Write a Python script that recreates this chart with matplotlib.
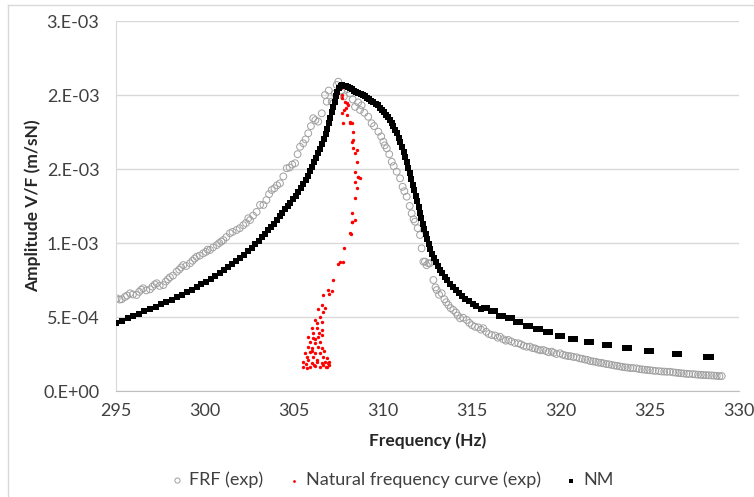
import numpy as np
import matplotlib.pyplot as plt
from matplotlib.lines import Line2D

plt.rcParams['font.family'] = ['Lato', 'DejaVu Sans']

# amplitudes are given in units of 1e-4 m/sN
SCALE = 1e-4

frf_freq = [295.04, 295.2, 295.32, 295.5, 295.62, 295.79, 295.95, 296.16, 296.3, 296.42,
            296.53, 296.7, 296.91, 297.05, 297.18, 297.29, 297.45, 297.66, 297.8, 297.92,
            298.03, 298.2, 298.41, 298.55, 298.66, 298.78, 298.95, 299.16, 299.3, 299.42,
            299.53, 299.7, 299.9, 300.05, 300.15, 300.28, 300.45, 300.66, 300.8, 300.92,
            301.03, 301.2, 301.4, 301.55, 301.78, 301.95, 302.15, 302.3, 302.43, 302.53,
            302.7, 302.9, 303.09, 303.28, 303.45, 303.6, 303.75, 303.9, 304.05, 304.21,
            304.4, 304.59, 304.75, 304.9, 305.06, 305.2, 305.34, 305.52, 305.65, 305.8,
            305.95, 306.08, 306.2, 306.36, 306.56, 306.74, 306.84, 306.95, 307.12, 307.2,
            307.3, 307.4, 307.49, 307.65, 307.8, 308.0, 308.15, 308.3, 308.43, 308.6,
            308.71, 308.8, 308.95, 309.17, 309.36, 309.5, 309.74, 309.9, 310.02, 310.1,
            310.21, 310.35, 310.49, 310.6, 310.77, 310.96, 311.1, 311.2, 311.33, 311.5,
            311.61, 311.72, 311.8, 311.95, 312.08, 312.17, 312.27, 312.36, 312.45, 312.55,
            312.64, 312.83, 312.95, 313.02, 313.15, 313.3, 313.45, 313.55, 313.67, 313.8,
            313.95, 314.1, 314.2, 314.33, 314.5, 314.7, 314.85, 315.0, 315.17, 315.35,
            315.5, 315.63, 315.8, 315.95, 316.11, 316.3, 316.45, 316.57, 316.75, 316.9,
            317.04, 317.2, 317.4, 317.6, 317.75, 317.9, 318.07, 318.25, 318.4, 318.54,
            318.7, 318.85, 319.0, 319.15, 319.3, 319.48, 319.6, 319.75, 319.94, 320.1,
            320.25, 320.41, 320.55, 320.7, 320.88, 321.05, 321.2, 321.35, 321.5, 321.65,
            321.8, 321.95, 322.1, 322.25, 322.38, 322.55, 322.7, 322.85, 323.0, 323.15,
            323.3, 323.45, 323.6, 323.75, 323.9, 324.05, 324.25, 324.4, 324.55, 324.7,
            324.85, 325.0, 325.15, 325.3, 325.5, 325.65, 325.8, 325.95, 326.12, 326.3,
            326.45, 326.6, 326.75, 326.9, 327.05, 327.2, 327.4, 327.55, 327.7, 327.85,
            327.99, 328.15, 328.3, 328.45, 328.6, 328.75, 328.9, 329.03]
frf_amp = [6.26, 6.18, 6.20, 6.35, 6.45, 6.60, 6.52, 6.49, 6.70, 6.85,
           6.94, 6.80, 6.87, 7.05, 7.20, 7.28, 7.10, 7.16, 7.40, 7.55,
           7.68, 7.80, 8.06, 8.20, 8.35, 8.51, 8.45, 8.63, 8.80, 8.95,
           9.07, 9.15, 9.30, 9.40, 9.55, 9.53, 9.70, 9.86, 10.0, 10.1,
           10.2, 10.4, 10.66, 10.75, 10.88, 11.0, 11.2, 11.35, 11.67, 11.55,
           11.85, 12.1, 12.57, 12.57, 12.9, 13.3, 13.58, 13.7, 13.9, 14.03,
           14.5, 15.05, 15.1, 15.3, 15.39, 16.0, 16.5, 16.74, 17.0, 17.41,
           17.9, 18.43, 18.3, 18.2, 18.76, 20.0, 19.55, 20.3, 19.55, 19.44,
           20.1, 20.68, 20.9, 20.3, 19.9, 20.4, 20.1, 19.7, 19.2, 19.5,
           18.99, 19.3, 18.8, 18.53, 18.09, 17.9, 17.52, 17.2, 16.84, 16.6,
           16.4, 16.0, 15.49, 15.2, 14.82, 14.37, 13.8, 13.5, 13.13, 12.5,
           12.0, 11.6, 11.44, 11.0, 10.54, 9.64, 8.74, 8.74, 8.5, 8.63,
           8.63, 7.5, 7.0, 6.82, 6.5, 6.6, 6.2, 6.0, 5.81, 5.6,
           5.47, 5.3, 5.1, 4.91, 4.95, 4.80, 4.6, 4.45, 4.34, 4.3,
           4.15, 4.24, 4.0, 3.85, 3.78, 3.75, 3.6, 3.67, 3.5, 3.4,
           3.45, 3.35, 3.25, 3.22, 3.15, 3.05, 2.99, 3.0, 2.9, 2.88,
           2.8, 2.75, 2.77, 2.7, 2.62, 2.66, 2.58, 2.5, 2.55, 2.45,
           2.4, 2.36, 2.35, 2.30, 2.28, 2.2, 2.18, 2.12, 2.1, 2.02,
           2.0, 1.97, 1.92, 1.9, 1.87, 1.82, 1.8, 1.76, 1.72, 1.7,
           1.66, 1.63, 1.6, 1.58, 1.55, 1.55, 1.53, 1.48, 1.46, 1.44,
           1.42, 1.40, 1.38, 1.36, 1.34, 1.32, 1.31, 1.30, 1.30, 1.26,
           1.24, 1.22, 1.2, 1.18, 1.16, 1.15, 1.14, 1.12, 1.1, 1.09,
           1.08, 1.07, 1.06, 1.05, 1.04, 1.02, 1.0, 1.01]

nat_freq = [305.52, 305.71, 305.90, 306.18, 306.46, 306.65, 306.83, 305.52, 305.80, 305.99,
            306.27, 306.55, 306.74, 306.93, 305.71, 306.09, 306.65, 306.83, 305.61, 305.90,
            306.18, 306.46, 305.80, 305.99, 306.37, 306.55, 305.90, 306.18, 306.46, 305.80,
            306.09, 306.37, 306.55, 306.09, 305.99, 306.27, 306.55, 306.18, 306.27, 306.55,
            306.46, 306.37, 306.55, 306.74, 306.65, 306.65, 306.89, 307.15, 306.97, 306.0,
            306.3, 306.1, 305.65, 306.7, 306.4, 306.2, 306.98, 306.95, 306.8,
            307.21, 307.58, 307.77, 307.49, 307.82, 308.2, 308.24, 308.15, 308.24, 308.43,
            308.24, 308.43, 308.52, 308.43, 308.61, 308.71, 308.43, 308.52, 308.33, 308.52,
            308.43, 308.24, 308.33, 308.15, 308.24, 307.77, 307.68, 307.87, 307.96, 308.05,
            307.68, 307.58, 307.62, 307.72, 307.9, 307.8, 307.96, 308.15, 308.33, 308.61]
nat_amp = [1.64, 1.53, 1.64, 1.69, 1.64, 1.76, 1.64, 1.98, 2.09, 1.87,
           1.98, 1.87, 1.98, 1.87, 2.32, 2.32, 2.32, 2.21, 2.55, 2.66,
           2.55, 2.55, 2.99, 2.88, 2.99, 2.88, 3.33, 3.22, 3.33, 3.67,
           3.56, 3.67, 3.78, 3.90, 4.23, 4.23, 4.12, 4.80, 4.57, 4.68,
           5.02, 5.52, 5.81, 5.59, 5.36, 6.49, 6.82, 6.76, 6.55, 2.7,
           2.1, 1.75, 1.8, 2.7, 3.9, 3.5, 1.75, 1.95, 1.6,
           7.5, 8.74, 8.74, 8.56, 9.66, 10.6, 11.44, 10.66, 11.44, 11.55,
           12.0, 13.02, 13.7, 14.14, 14.48, 14.37, 14.82, 15.5, 16.4, 16.28,
           16.05, 16.84, 17.52, 18.2, 18.09, 18.09, 18.76, 19.55, 19.44, 19.32,
           20.0, 20.68, 20.45, 19.8, 19.1, 19.0, 18.65, 18.14, 16.96, 14.48]

nm_freq = [295.0, 295.33, 295.66, 295.97, 296.28, 296.6, 296.92, 297.23, 297.53, 297.83,
           298.12, 298.41, 298.7, 298.98, 299.26, 299.53, 299.8, 300.06, 300.32, 300.57,
           300.82, 301.06, 301.3, 301.53, 301.76, 301.98, 302.2, 302.41, 302.62, 302.82,
           303.02, 303.2, 303.38, 303.55, 303.72, 303.88, 304.04, 304.2, 304.35, 304.5,
           304.65, 304.8, 304.95, 305.1, 305.24, 305.38, 305.52, 305.65, 305.78, 305.9,
           306.02, 306.14, 306.26, 306.37, 306.48, 306.58, 306.68, 306.78, 306.87, 306.96,
           307.04, 307.12, 307.2, 307.28, 307.36, 307.44, 307.52, 307.62, 307.72, 307.82,
           307.92, 308.02, 308.14, 308.26, 308.38, 308.5, 308.62, 308.74, 308.86, 308.98,
           309.1, 309.22, 309.34, 309.46, 309.58, 309.7, 309.82, 309.94, 310.05, 310.16,
           310.27, 310.38, 310.48, 310.58, 310.68, 310.78, 310.88, 310.98, 311.07, 311.16,
           311.25, 311.34, 311.43, 311.52, 311.6, 311.68, 311.76, 311.84, 311.92, 312.0,
           312.08, 312.16, 312.24, 312.32, 312.4, 312.48, 312.57, 312.66, 312.76, 312.86,
           312.97, 313.08, 313.2, 313.33, 313.47, 313.61, 313.76, 313.92, 314.08, 314.25,
           314.43, 314.62, 314.82, 315.03, 315.25, 315.48,
           315.65, 315.87, 316.05, 316.27, 316.52, 316.74, 317.02, 317.25, 317.49, 317.72,
           318.05, 318.28, 318.61, 318.84, 319.18, 319.41, 319.83, 320.06, 320.58, 320.81,
           321.46, 321.69, 322.45, 322.68, 323.58, 323.81, 324.85, 325.08, 326.39, 326.62,
           328.17, 328.4]
nm_amp = [4.61, 4.75, 4.92, 5.07, 5.22, 5.38, 5.55, 5.7, 5.86, 6.03,
          6.18, 6.32, 6.5, 6.66, 6.84, 7.02, 7.2, 7.38, 7.57, 7.76,
          7.95, 8.15, 8.36, 8.57, 8.78, 9.0, 9.22, 9.45, 9.68, 9.92,
          10.16, 10.4, 10.62, 10.85, 11.08, 11.3, 11.55, 11.8, 12.03, 12.27,
          12.5, 12.72, 12.95, 13.2, 13.45, 13.72, 14.0, 14.28, 14.56, 14.85,
          15.15, 15.45, 15.76, 16.07, 16.38, 16.7, 17.03, 17.37, 17.72, 18.08,
          18.45, 18.82, 19.2, 19.55, 19.9, 20.2, 20.45, 20.6, 20.65, 20.62,
          20.6, 20.55, 20.48, 20.4, 20.3, 20.2, 20.12, 20.05, 19.98, 19.9,
          19.82, 19.72, 19.62, 19.52, 19.42, 19.3, 19.15, 19.0, 18.85, 18.68,
          18.5, 18.3, 18.1, 17.88, 17.65, 17.4, 17.12, 16.82, 16.5, 16.15,
          15.8, 15.45, 15.08, 14.7, 14.32, 13.95, 13.58, 13.2, 12.82, 12.44,
          12.05, 11.68, 11.3, 10.93, 10.58, 10.24, 9.9, 9.58, 9.27, 8.98,
          8.7, 8.44, 8.2, 7.95, 7.7, 7.47, 7.25, 7.03, 6.82, 6.62,
          6.43, 6.24, 6.06, 5.89, 5.72, 5.56,
          5.6, 5.6, 5.4, 5.4, 5.1, 5.1, 4.9, 4.9, 4.68, 4.68,
          4.4, 4.4, 4.2, 4.2, 4.0, 4.0, 3.74, 3.74, 3.53, 3.53,
          3.33, 3.33, 3.13, 3.13, 2.9, 2.9, 2.7, 2.7, 2.5, 2.5,
          2.28, 2.28]

yticks = [0, 5e-4, 1e-3, 1.5e-3, 2e-3, 2.5e-3]
ytick_labels = ['0.E+00', '5.E-04', '1.E-03', '2.E-03', '2.E-03', '3.E-03']
xticks = [295, 300, 305, 310, 315, 320, 325, 330]

fig = plt.figure(figsize=(7.54, 4.97), dpi=100)
ax = fig.add_axes([116 / 754, 1 - 391 / 497, 623 / 754, 370 / 497])

ax.scatter(frf_freq, np.array(frf_amp) * SCALE, s=24, facecolors='none',
           edgecolors='#a0a0a0', linewidths=0.7, label='FRF (exp)', zorder=2)
ax.scatter(nat_freq, np.array(nat_amp) * SCALE, s=6, color='#ff0000',
           linewidths=0, label='Natural frequency curve (exp)', zorder=3)
ax.scatter(nm_freq, np.array(nm_amp) * SCALE, s=13, marker='s', color='black',
           linewidths=0, label='NM', zorder=4)

ax.set_xlim(295, 330)
ax.set_ylim(0, 2.5e-3)
ax.set_xticks(xticks)
ax.set_yticks(yticks)
ax.set_yticklabels(ytick_labels)
ax.tick_params(length=0, labelsize=13, labelcolor='#404040')
ax.tick_params(axis='x', pad=9)
ax.tick_params(axis='y', pad=12)
ax.grid(axis='y', color='#d9d9d9', linewidth=1)
ax.set_axisbelow(True)
for side in ['top', 'right']:
    ax.spines[side].set_visible(False)
ax.spines['left'].set_color('#d9d9d9')
ax.spines['bottom'].set_color('#bfbfbf')

ax.set_xlabel('Frequency (Hz)', fontsize=12.5, fontweight='bold', color='#262626')
ax.set_ylabel('Amplitude V/F (m/sN)', fontsize=12.5, fontweight='bold', color='#262626')
ax.xaxis.set_label_coords(0.5, (391 - 441) / 370)
ax.xaxis.label.set_va('center')
ax.yaxis.set_label_coords((33 - 116) / 623, 0.5)
ax.yaxis.label.set_va('center')

leg = ax.legend(loc='center', bbox_to_anchor=(391 / 754, 1 - 480 / 497),
                bbox_transform=fig.transFigure, ncol=3, frameon=False,
                fontsize=13, handlelength=1.0, handletextpad=0.15, columnspacing=1.2,
                borderpad=0)
leg.legend_handles[0].set_sizes([14])
leg.legend_handles[1].set_sizes([4])
leg.legend_handles[2].set_sizes([6])
for t in leg.get_texts():
    t.set_color('#404040')

# outer chart frame (only left and top edges are in view)
fig.add_artist(Line2D([8 / 754, 8 / 754], [0, 1 - 5 / 497], transform=fig.transFigure,
                      color='#d9d9d9', linewidth=1))
fig.add_artist(Line2D([8 / 754, 1], [1 - 5 / 497, 1 - 5 / 497], transform=fig.transFigure,
                      color='#d9d9d9', linewidth=1))

fig.savefig('out.png', dpi=100)
